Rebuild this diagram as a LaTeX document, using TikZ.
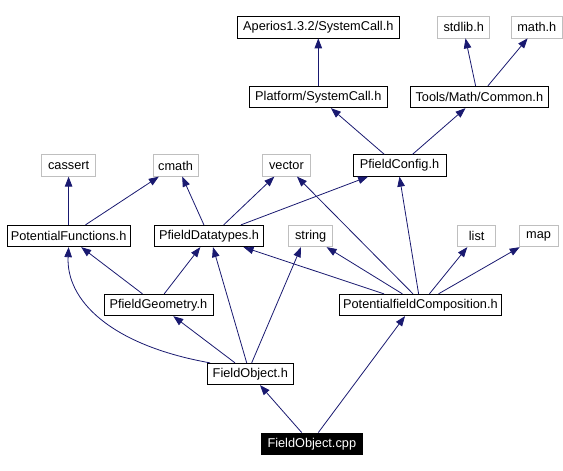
\documentclass[tikz,border=0pt]{standalone}
\usepackage{fontspec}
\setmainfont{Liberation Sans}
\usetikzlibrary{arrows.meta}
\definecolor{edgecol}{HTML}{191970}
\definecolor{graybd}{HTML}{BFBFBF}
\tikzset{
  nbox/.style={draw=black, line width=0.8bp, minimum height=21.5bp, inner sep=0pt, font=\fontsize{12.8}{14}\selectfont},
  gbox/.style={nbox, draw=graybd},
  cur/.style={nbox, fill=black, text=white},
  edge/.style={draw=edgecol, line width=0.8bp, -{Triangle[length=10bp,width=7.5bp]}},
}
\begin{document}
\begin{tikzpicture}[x=1bp,y=-1bp]
\useasboundingbox (0,0) rectangle (563,471);
% row 1
\node[nbox, minimum width=161.6bp] (aperios) at (318.3,27.2) {Aperios1.3.2/SystemCall.h};
\node[gbox, minimum width=52bp] (stdlib) at (463.7,27.2) {stdlib.h};
\node[gbox, minimum width=50.2bp] (math) at (536.8,27.2) {math.h};
% row 2
\node[nbox, minimum width=137.8bp] (platform) at (318.3,97) {Platform/SystemCall.h};
\node[nbox, minimum width=137.9bp] (common) at (479.3,97) {Tools/Math/Common.h};
% row 3
\node[gbox, minimum width=54bp] (cassert) at (68.6,165.5) {cassert};
\node[gbox, minimum width=45bp] (cmath) at (175.6,165.5) {cmath};
\node[gbox, minimum width=47.3bp] (vector) at (286.4,165.5) {vector};
\node[nbox, minimum width=93.2bp] (pfconfig) at (399.5,165.5) {PfieldConfig.h};
% row 4
\node[nbox, minimum width=122.7bp] (potfun) at (68.6,236) {PotentialFunctions.h};
\node[nbox, minimum width=109.7bp] (datatypes) at (209,236) {PfieldDatatypes.h};
\node[gbox, minimum width=44bp] (string) at (310.7,236) {string};
\node[gbox, minimum width=38.2bp] (list) at (476.7,236) {list};
\node[gbox, minimum width=39.3bp] (map) at (538.6,236) {map};
% row 5
\node[nbox, minimum width=109bp] (geometry) at (158.4,305) {PfieldGeometry.h};
\node[nbox, minimum width=162.4bp] (composition) at (420.4,305) {PotentialfieldComposition.h};
% row 6
\node[nbox, minimum width=86bp] (foh) at (250.3,374) {FieldObject.h};
% row 7
\node[cur, minimum width=101.7bp] (focpp) at (311.8,443.7) {FieldObject.cpp};

% edges
\draw[edge] (platform.north) -- (aperios.south);
\draw[edge] ([xshift=-3.7bp]common.north) -- ([xshift=1.8bp]stdlib.south);
\draw[edge] ([xshift=8.6bp]common.north) -- ([xshift=-9.2bp]math.south);
\draw[edge] ([xshift=-15.2bp]pfconfig.north) -- ([xshift=12.6bp]platform.south);
\draw[edge] ([xshift=13bp]pfconfig.north) -- ([xshift=-13.8bp]common.south);
\draw[edge] (potfun.north) -- (cassert.south);
\draw[edge] ([xshift=16.9bp]potfun.north) -- ([xshift=-16.8bp]cmath.south);
\draw[edge] ([xshift=-5.1bp]datatypes.north) -- ([xshift=6.6bp]cmath.south);
\draw[edge] ([xshift=14.7bp]datatypes.north) -- ([xshift=-12.1bp]vector.south);
\draw[edge] ([xshift=32bp]datatypes.north) -- ([xshift=-31.4bp]pfconfig.south);
\draw[edge] ([xshift=-15.9bp]geometry.north) -- ([xshift=12.6bp]potfun.south);
\draw[edge] ([xshift=5.8bp]geometry.north) -- ([xshift=-8.7bp]datatypes.south);
\draw[edge] ([xshift=-7.4bp]composition.north) -- ([xshift=10.6bp]vector.south);
\draw[edge] ([xshift=-1.8bp]composition.north) -- (pfconfig.south);
\draw[edge] ([xshift=-36.4bp]composition.north) -- ([xshift=34.5bp]datatypes.south);
\draw[edge] ([xshift=-18bp]composition.north) -- ([xshift=15.9bp]string.south);
\draw[edge] ([xshift=9bp]composition.north) -- ([xshift=-9.4bp]list.south);
\draw[edge] ([xshift=18.1bp]composition.north) -- ([xshift=-18.9bp]map.south);
\draw[edge] ([xshift=-40.3bp]foh.north) .. controls (110,345) and (66,300) .. (potfun.south);
\draw[edge] ([xshift=-15.3bp]foh.north) -- ([xshift=14.9bp]geometry.south);
\draw[edge] ([xshift=-3.6bp]foh.north) -- ([xshift=4bp]datatypes.south);
\draw[edge] ([xshift=1.4bp]foh.north) -- ([xshift=-9.7bp]string.south);
\draw[edge] ([xshift=-10.1bp]focpp.north) -- ([xshift=9.7bp]foh.south);
\draw[edge] ([xshift=6.5bp]focpp.north) -- ([xshift=-15.4bp]composition.south);
\end{tikzpicture}
\end{document}
